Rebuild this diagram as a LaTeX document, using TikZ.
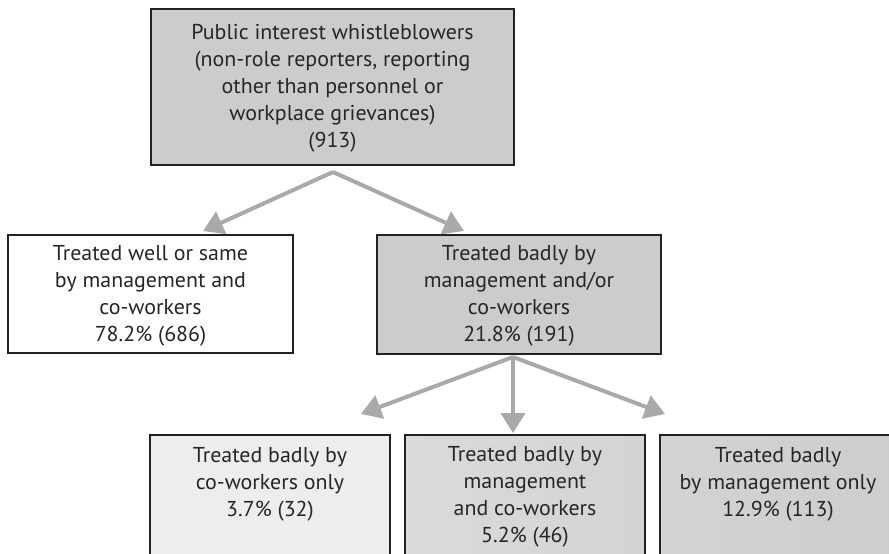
\documentclass[tikz,border=0pt]{standalone}
\usepackage{fontspec}
\setmainfont[FakeStretch=1.02]{PT Sans}
\usetikzlibrary{arrows.meta}
\definecolor{boxgray}{HTML}{CCCCCC}
\definecolor{arrowgray}{HTML}{A9A9A9}
\definecolor{bordergray}{HTML}{222222}
\definecolor{lightA}{HTML}{EDEDED}
\definecolor{midA}{HTML}{DADADA}
\definecolor{midB}{HTML}{D4D4D4}
\definecolor{darkA}{HTML}{D3D3D3}
\definecolor{darkB}{HTML}{CDCDCD}
\tikzset{
  box/.style={draw=bordergray, line width=1.8bp},
  lbl/.style={align=center, font=\fontsize{21.5bp}{27bp}\selectfont, text=black!85, inner sep=0pt},
  conn/.style={draw=arrowgray, line width=4bp, -{Triangle[length=20bp,width=24bp]}}
}
\begin{document}
\begin{tikzpicture}[x=1bp,y=-1bp]
\useasboundingbox (0,0) rectangle (889,554);
\fill[white] (0,0) rectangle (889,554);
\begin{scope}
\clip (0,0) rectangle (889,554);
\draw[box, fill=boxgray] (151,9) rectangle (514,165);
\draw[box, fill=white] (8,235) rectangle (293,353);
\draw[box, fill=boxgray] (377,235) rectangle (661,354);
\draw[box, fill=lightA] (150,435) rectangle (390,570);
\draw[box, left color=midA, right color=midB] (405,435) rectangle (645,570);
\draw[box, left color=darkA, right color=darkB] (660,435) rectangle (905,570);
\end{scope}
\node[lbl] (top) at (332.5,88) {Public interest whistleblowers\\(non-role reporters, reporting\\other than personnel or\\workplace grievances)\\(913)};
\node[lbl] (well) at (150.5,296) {Treated well or same\\by management and\\co-workers\\78.2\% (686)};
\node[lbl] (bad) at (519,296) {Treated badly by\\management and/or\\co-workers\\21.8\% (191)};
\node[lbl] (cow) at (270,484) {Treated badly by\\co-workers only\\3.7\% (32)};
\node[lbl] (both) at (525,497) {Treated badly by\\management\\and co-workers\\5.2\% (46)};
\node[lbl] (mgmt) at (778,484) {Treated badly\\by management only\\12.9\% (113)};
\coordinate (ap1) at (333,172);
\coordinate (t1) at (203,231);
\coordinate (t2) at (464,231);
\coordinate (ap2) at (513,357);
\coordinate (t3) at (361,414);
\coordinate (t4) at (513,433);
\coordinate (t5) at (665,414);
\draw[conn] (ap1) -- (t1);
\draw[conn] (ap1) -- (t2);
\draw[conn] (ap2) -- (t3);
\draw[conn] (ap2) -- (t4);
\draw[conn] (ap2) -- (t5);
\end{tikzpicture}
\end{document}
